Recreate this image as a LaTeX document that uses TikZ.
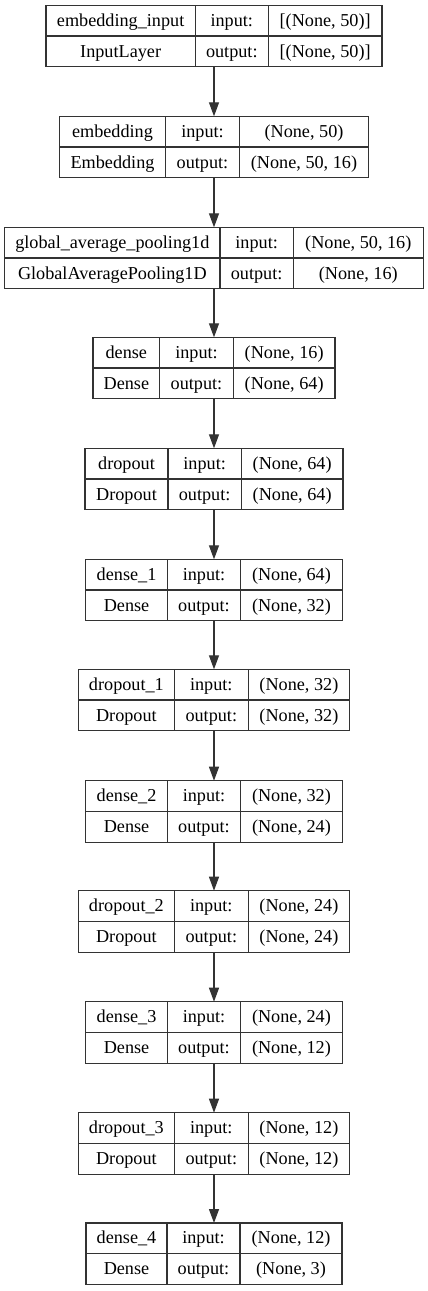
\documentclass[tikz,border=0pt]{standalone}
\usepackage{fontspec}
\setmainfont{Liberation Serif}
\usetikzlibrary{arrows.meta}
\definecolor{linegray}{HTML}{333333}
\tikzset{
  layerbox/.style={draw=linegray, line width=1.3pt, rectangle, inner sep=0pt, outer sep=0pt, minimum height=61.5pt},
  cellline/.style={draw=linegray, line width=1.3pt},
  celltext/.style={inner sep=0pt, anchor=base, font=\fontsize{18.2}{21}\selectfont, text=black},
  flow/.style={draw=linegray, line width=1.3pt, -{Triangle[length=14pt,width=10pt]}}
}
\newcommand{\nnlayer}[9]{%
  \node[layerbox, minimum width={2*#3pt}, anchor=north] (#1) at (214,#2) {};
  \draw[cellline] (#4,#2) -- (#4,{#2+61.5});
  \draw[cellline] (#5,#2) -- (#5,{#2+61.5});
  \draw[cellline] ({214-#3},{#2+30.75}) -- ({214+#3},{#2+30.75});
  \node[celltext] (#1n) at ({(214-#3+#4)/2},{#2+20.8}) {#6};
  \node[celltext] (#1c) at ({(214-#3+#4)/2},{#2+51.8}) {#7};
  \node[celltext] (#1i) at ({(#4+#5)/2},{#2+20.8}) {input:};
  \node[celltext] (#1o) at ({(#4+#5)/2},{#2+51.8}) {output:};
  \node[celltext] (#1iv) at ({(#5+214+#3)/2},{#2+20.8}) {#8};
  \node[celltext] (#1ov) at ({(#5+214+#3)/2},{#2+51.8}) {#9};
}
\begin{document}
\begin{tikzpicture}[x=1pt,y=-1pt]
\useasboundingbox (0,0) rectangle (428,1291);
\nnlayer{L1}{5.3}{168}{195.3}{268.3}{embedding\_input}{InputLayer}{[(None, 50)]}{[(None, 50)]}
\nnlayer{L2}{116.3}{154.7}{165.7}{239.3}{embedding}{Embedding}{(None, 50)}{(None, 50, 16)}
\nnlayer{L3}{227.3}{209.3}{220}{293.3}{global\_average\_pooling1d}{GlobalAveragePooling1D}{(None, 50, 16)}{(None, 16)}
\nnlayer{L4}{337.3}{121}{159.7}{233.3}{dense}{Dense}{(None, 16)}{(None, 64)}
\nnlayer{L5}{448.3}{129}{168}{241.3}{dropout}{Dropout}{(None, 64)}{(None, 64)}
\nnlayer{L6}{559.3}{128.2}{167.3}{240.7}{dense\_1}{Dense}{(None, 64)}{(None, 32)}
\nnlayer{L7}{669.3}{135.5}{174.3}{248.3}{dropout\_1}{Dropout}{(None, 32)}{(None, 32)}
\nnlayer{L8}{780.7}{128.2}{167.3}{240.7}{dense\_2}{Dense}{(None, 32)}{(None, 24)}
\nnlayer{L9}{890.7}{135.5}{174.3}{248.3}{dropout\_2}{Dropout}{(None, 24)}{(None, 24)}
\nnlayer{L10}{1001.7}{128.2}{167.3}{240.7}{dense\_3}{Dense}{(None, 24)}{(None, 12)}
\nnlayer{L11}{1112.7}{135.5}{174.3}{248.3}{dropout\_3}{Dropout}{(None, 12)}{(None, 12)}
\nnlayer{L12}{1223}{128}{167}{240}{dense\_4}{Dense}{(None, 12)}{(None, 3)}
\foreach \a/\b in {L1/L2,L2/L3,L3/L4,L4/L5,L5/L6,L6/L7,L7/L8,L8/L9,L9/L10,L10/L11,L11/L12}
  \draw[flow] (\a.south) -- (\b.north);
\end{tikzpicture}
\end{document}
